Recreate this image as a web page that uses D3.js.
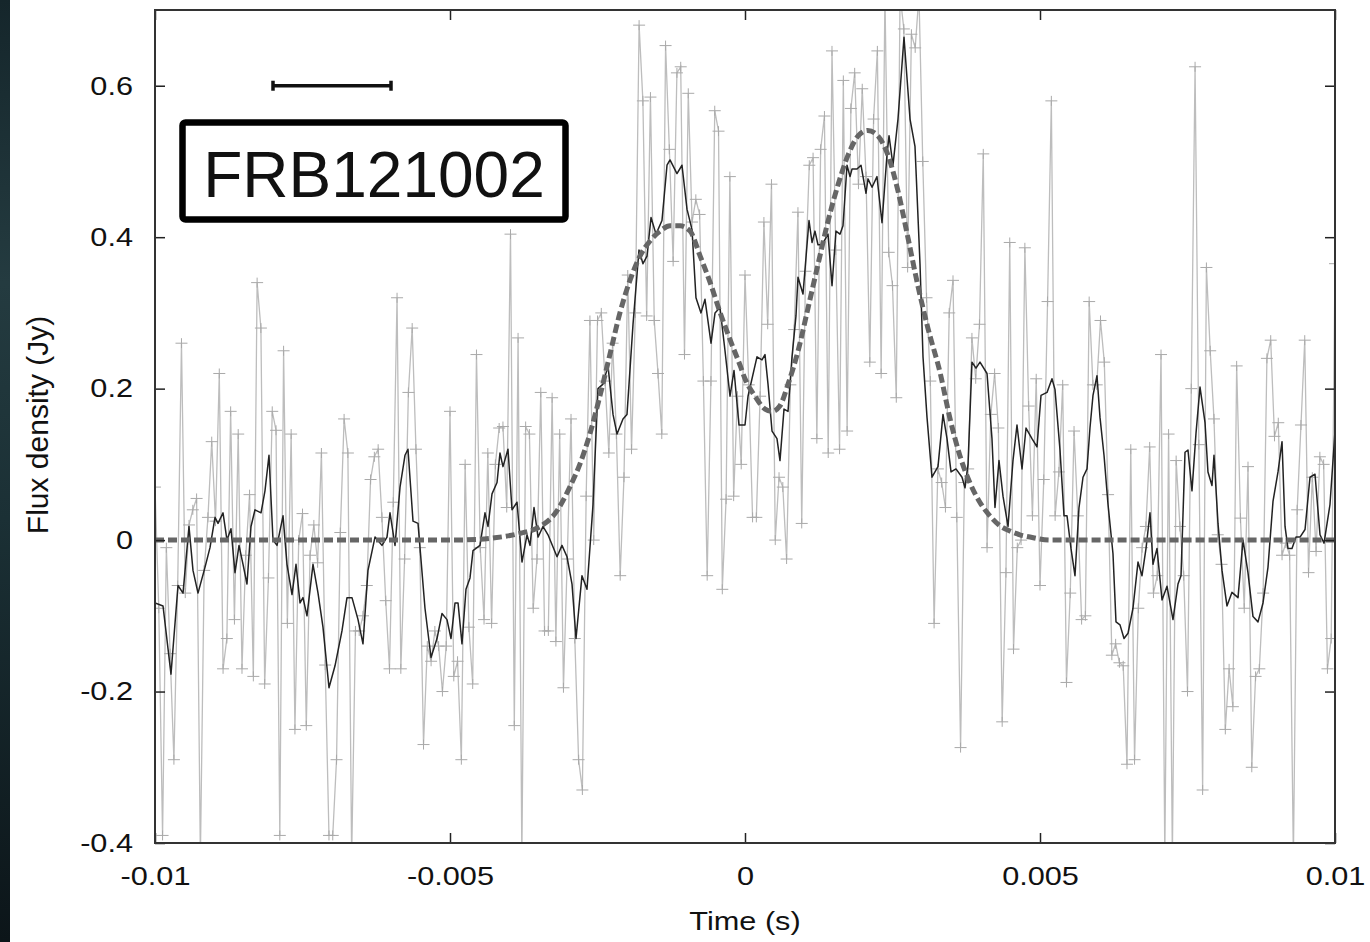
<!DOCTYPE html>
<html>
<head>
<meta charset="utf-8">
<script src="https://cdn.jsdelivr.net/npm/d3@7"></script>
<style>
body { margin: 0; background: #fff; }
svg { display: block; }
text { font-family: "Liberation Sans", Arial, Helvetica, sans-serif; fill: #111; }
</style>
</head>
<body>
<div id="chart"></div>
<script>
// ---- data ----
// raw flux density samples, evenly spaced from -0.01 s to 0.01 s
const greyFlux = [
    0.07, -0.09, -0.39, -0.01, -0.15, -0.29, -0.06, 0.26, -0.07, 0.02,
    0.04, 0.055, -0.42, -0.04, 0.03, 0.13, 0.025, 0.22, -0.17, -0.13,
    0.17, -0.105, 0.14, -0.17, -0.02, 0.06, -0.18, 0.34, 0.28, -0.19,
    -0.05, 0.17, 0.145, -0.39, 0.25, -0.11, 0.14, -0.25, 0.0, 0.035,
    -0.245, -0.02, 0.02, -0.03, 0.115, -0.165, -0.39, -0.39, -0.29, 0.01,
    0.16, 0.115,
    -0.42, -0.12, -0.12, -0.1, -0.06, 0.08, 0.11, 0.12, 0.03, -0.08,
    -0.17, 0.05, 0.32, -0.17, -0.025, 0.195, 0.28, 0.12, -0.01, -0.27,
    -0.14, -0.16, -0.12, -0.14, -0.2, -0.14, 0.17, -0.18, -0.16, -0.29,
    0.1, -0.115, -0.19, 0.245, -0.01, -0.105, 0.115, -0.11, 0.1, 0.148,
    0.15, 0.043, 0.404, -0.245, 0.267, -0.42, 0.15, 0.14, -0.09, -0.025,
    0.195, -0.12,
    -0.12, 0.188, -0.134, 0.14, -0.195, -0.025, 0.16, -0.13, -0.29, -0.33,
    0.058, 0.29, 0.0, 0.29, 0.3, 0.21, 0.115, 0.26, 0.14, -0.047,
    0.083, 0.35, 0.12, 0.3, 0.68, 0.58, 0.296, 0.585, 0.29, 0.22,
    0.14, 0.653, 0.516, 0.368, 0.617, 0.625, 0.245, 0.59, 0.42, 0.45,
    0.43, 0.21, -0.047, 0.21, 0.567, 0.54, -0.065, 0.054, 0.48, 0.058,
    0.19, 0.1, 0.35,
    0.205, 0.03, 0.03, 0.19, 0.42, 0.285, 0.47, 0.0, 0.083, 0.07,
    -0.025, 0.205, 0.278, 0.433, 0.022, 0.355, 0.495, 0.505, 0.134, 0.516,
    0.56, 0.115, 0.646, 0.383, 0.12, 0.607, 0.144, 0.57, 0.617, 0.47,
    0.596, 0.48, 0.235, 0.556, 0.646, 0.22, 0.72, 0.38, 0.336, 0.188,
    0.72, 0.675, 0.36, 0.668, 0.65, 0.72, 0.5, 0.32, 0.21, -0.11,
    0.094, 0.076,
    0.043, 0.3, 0.343, 0.03, -0.274, 0.076, 0.094, 0.267, 0.213, 0.285,
    0.51, -0.01, 0.166, 0.22, 0.148, -0.24, -0.043, 0.393, -0.144, -0.01,
    0.0, 0.386, 0.177, 0.032, 0.213, -0.06, 0.08, 0.315, 0.58, 0.032,
    0.09, 0.205, -0.188, -0.07, 0.144, 0.032, -0.105, -0.1, 0.315, 0.205,
    0.205, 0.29, 0.235, 0.06, -0.152, -0.137, -0.162, -0.166, -0.296, 0.12,
    -0.29, -0.09, -0.01, 0.018, 0.123, -0.07, -0.047, 0.245, -0.42, 0.14,
    -0.42, 0.105, 0.018, -0.047, -0.2, 0.2, 0.625, 0.126, -0.33, 0.36,
    0.25, 0.16, 0.007, -0.032, -0.25, -0.17, -0.22, 0.23, 0.029, -0.09,
    0.097, -0.3, -0.18, -0.17, -0.07, 0.24, 0.264, 0.137, 0.155, -0.02,
    -0.004, -0.02, -0.42, 0.04, 0.152, 0.264, -0.043, 0.083, -0.015, 0.11,
    0.1, -0.17, -0.13, 0.365
];
const tStart = -0.01, tEnd = 0.01;

// smoothed profile (time in ms)
const smoothMs = [
    -10.0, -9.864, -9.729, -9.61, -9.525, -9.424, -9.356, -9.271, -9.153, -9.068,
    -8.983, -8.932, -8.847, -8.78, -8.712, -8.644, -8.576, -8.508, -8.441, -8.373,
    -8.305, -8.203, -8.136, -8.068, -8.0, -7.932, -7.83, -7.763, -7.678, -7.61,
    -7.542, -7.492, -7.424, -7.322, -7.237, -7.153, -7.051, -6.949, -6.831, -6.746,
    -6.661, -6.559, -6.475, -6.39, -6.271, -6.153, -6.068, -6.017, -5.932, -5.847,
    -5.763, -5.712, -5.627, -5.542, -5.424, -5.322, -5.22, -5.136, -5.051, -4.983,
    -4.915, -4.864, -4.797, -4.729, -4.661, -4.61, -4.492, -4.407, -4.356, -4.288,
    -4.203, -4.153, -4.102, -4.017, -3.949, -3.864, -3.78, -3.695, -3.644, -3.576,
    -3.508, -3.424,
    -3.339, -3.186, -3.102, -3.017, -2.932, -2.864, -2.763, -2.678, -2.576, -2.492,
    -2.407, -2.322, -2.237, -2.169, -2.068, -2.0, -1.898, -1.797, -1.729, -1.661,
    -1.593, -1.508, -1.407, -1.322, -1.271, -1.153, -1.068, -0.983, -0.898, -0.831,
    -0.746, -0.678, -0.576, -0.508, -0.424, -0.339, -0.254, -0.186, -0.102,
    0.0, 0.051, 0.203, 0.288, 0.339, 0.39, 0.458, 0.542, 0.593, 0.661,
    0.729, 0.797, 0.864, 0.898, 0.983, 1.085, 1.136, 1.186, 1.237, 1.305,
    1.407, 1.475, 1.542, 1.61, 1.661, 1.729, 1.78, 1.814, 1.898, 1.966,
    2.051, 2.085, 2.153, 2.237, 2.322, 2.407, 2.441, 2.508, 2.593, 2.695,
    2.797, 2.881, 2.966, 3.017, 3.085, 3.169,
    3.271, 3.356, 3.424, 3.492, 3.576, 3.678, 3.729, 3.78, 3.847, 3.915,
    3.983, 4.102, 4.186, 4.237, 4.305, 4.373, 4.458, 4.542, 4.61, 4.695,
    4.763, 4.864, 4.949, 5.017, 5.119, 5.203, 5.254, 5.339, 5.407, 5.458,
    5.525, 5.593, 5.661, 5.729, 5.797, 5.847, 5.898, 5.966, 6.017, 6.085,
    6.153, 6.237, 6.288, 6.356, 6.424, 6.492,
    6.576, 6.661, 6.729, 6.797, 6.864, 6.915, 6.983, 7.068, 7.153, 7.254,
    7.339, 7.39, 7.458, 7.508, 7.576, 7.644, 7.712, 7.797, 7.847, 7.915,
    7.949, 8.017, 8.085, 8.169, 8.254, 8.356, 8.441, 8.525, 8.61, 8.695,
    8.78, 8.864, 8.949, 9.034, 9.102, 9.153, 9.203, 9.271, 9.339, 9.407,
    9.492, 9.576, 9.661, 9.746, 9.814, 9.915, 10.0
];
const smoothFlux = [
    -0.083, -0.087, -0.177, -0.06, -0.07, 0.018, -0.04, -0.07, -0.036, -0.01,
    0.03, 0.022, 0.036, 0.0, 0.015, -0.043, -0.007, -0.032, -0.058, 0.018,
    0.04, 0.036, 0.065, 0.112, 0.0, -0.007, 0.032, -0.032, -0.072, -0.032,
    -0.083, -0.076, -0.1, -0.032, -0.07, -0.115, -0.195, -0.166, -0.12, -0.076,
    -0.076, -0.105, -0.137, -0.04, 0.004, -0.007, 0.004, 0.036, -0.007, 0.07,
    0.112, 0.12, 0.025, 0.022, -0.09, -0.155, -0.13, -0.097, -0.105, -0.13,
    -0.083, -0.083, -0.137, -0.065, -0.05, -0.014, -0.007, 0.036, 0.018, 0.061,
    0.076, 0.115, 0.097, 0.12, 0.04, 0.05, -0.029, 0.007, -0.007, 0.043,
    0.004, 0.018,
    0.007, -0.022, -0.007, -0.022, -0.058, -0.13, -0.047, -0.065, 0.047, 0.2,
    0.206, 0.23, 0.166, 0.14, 0.16, 0.166, 0.285, 0.383, 0.365, 0.375,
    0.426, 0.404, 0.422, 0.495, 0.502, 0.484, 0.495, 0.437, 0.41, 0.32,
    0.3, 0.318, 0.26, 0.3, 0.307, 0.25, 0.19, 0.224, 0.152,
    0.152, 0.19, 0.242, 0.238, 0.245, 0.206, 0.144, 0.134, 0.105, 0.173,
    0.17, 0.242, 0.296, 0.347, 0.325, 0.422, 0.393, 0.408, 0.39, 0.39,
    0.404, 0.336, 0.408, 0.404, 0.415, 0.495, 0.48, 0.49, 0.49, 0.495,
    0.458, 0.477, 0.466, 0.48, 0.419, 0.509, 0.534, 0.495, 0.556, 0.664,
    0.556, 0.52, 0.365, 0.242, 0.162, 0.083,
    0.097, 0.166, 0.134, 0.09, 0.094, 0.083, 0.069, 0.1, 0.235, 0.227,
    0.235, 0.22, 0.134, 0.043, 0.105, 0.058, 0.018, 0.105, 0.152, 0.094,
    0.148, 0.134, 0.123, 0.191, 0.195, 0.213, 0.199, 0.119, 0.032, 0.032,
    -0.011, -0.047, 0.043, 0.083, 0.094, 0.148, 0.191, 0.217, 0.162, 0.112,
    0.047, -0.018, -0.108, -0.112, -0.13, -0.123,
    -0.09, -0.029, -0.047, -0.011, 0.036, -0.032, -0.011, -0.079, -0.061, -0.105,
    -0.058, -0.047, 0.116, 0.119, 0.065, 0.141, 0.202, 0.155, 0.09, 0.072,
    0.112, 0.022, -0.04, -0.087, -0.069, -0.076, 0.0, -0.043, -0.101, -0.108,
    -0.083, -0.036, 0.051, 0.09, 0.13, 0.018, -0.011, -0.011, 0.004, 0.004,
    0.014, 0.083, 0.087, 0.007, -0.004, 0.047, 0.144
];

// two-component model fit (time in ms)
const fitMs = [
    -10, -5, -4.5, -4.24, -3.81, -3.47, -3.22, -2.97, -2.8, -2.63,
    -2.46, -2.29, -2.12, -1.95, -1.78, -1.61, -1.44, -1.27, -1.1, -0.93,
    -0.76, -0.59, -0.42, -0.25, -0.08, 0.0, 0.17, 0.34, 0.46, 0.59,
    0.73, 0.9, 1.07, 1.24, 1.41, 1.58, 1.75, 1.92, 2.08, 2.25,
    2.42, 2.59, 2.76, 2.93, 3.1, 3.31, 3.47, 3.64, 3.81, 3.98,
    4.15, 4.32, 4.49, 4.66, 4.83, 5.17, 10
];
const fitFlux = [
    0, 0, 0.001, 0.003, 0.009, 0.018, 0.035, 0.07, 0.1, 0.14,
    0.19, 0.245, 0.3, 0.343, 0.375, 0.395, 0.408, 0.415, 0.415, 0.408,
    0.375, 0.34, 0.3, 0.264, 0.23, 0.213, 0.19, 0.173, 0.17, 0.177,
    0.206, 0.25, 0.307, 0.365, 0.422, 0.47, 0.509, 0.534, 0.541, 0.534,
    0.509, 0.462, 0.4, 0.336, 0.28, 0.22, 0.162, 0.112, 0.076, 0.05,
    0.032, 0.019, 0.012, 0.007, 0.004, 0, 0
];

const xTicks = [-0.01, -0.005, 0, 0.005, 0.01];
const xTickLabels = ["-0.01", "-0.005", "0", "0.005", "0.01"];
const yTicks = [-0.4, -0.2, 0, 0.2, 0.4, 0.6];
const yTickLabels = ["-0.4", "-0.2", "0", "0.2", "0.4", "0.6"];
const scaleBarTimes = [-0.008, -0.006];
const scaleBarFlux = 0.6;
const sourceName = "FRB121002";

// ---- layout ----
const width = 1370;
const height = 942;
const plot = { left: 155, right: 1335, top: 10, bottom: 843 };
const stretch = 1.18;   // axis lettering in the figure is drawn a bit wide

const svg = d3.select("#chart")
    .append("svg")
    .attr("width", width)
    .attr("height", height);

// dark photo strip on the far left edge
const defs = svg.append("defs");
const grad = defs.append("linearGradient")
    .attr("id", "strip")
    .attr("x1", 0).attr("y1", 0).attr("x2", 0).attr("y2", 1);
grad.append("stop").attr("offset", "0%").attr("stop-color", "#15262b");
grad.append("stop").attr("offset", "30%").attr("stop-color", "#243b40");
grad.append("stop").attr("offset", "55%").attr("stop-color", "#1b3035");
grad.append("stop").attr("offset", "100%").attr("stop-color", "#0c1519");
svg.append("rect")
    .attr("x", 0).attr("y", 0)
    .attr("width", 10).attr("height", height)
    .attr("fill", "url(#strip)");

defs.append("clipPath")
    .attr("id", "plotClip")
    .append("rect")
    .attr("x", plot.left).attr("y", plot.top)
    .attr("width", plot.right - plot.left)
    .attr("height", plot.bottom - plot.top);

const x = d3.scaleLinear().domain([-0.01, 0.01]).range([plot.left, plot.right]);
const y = d3.scaleLinear().domain([-0.4, 0.7]).range([plot.bottom, plot.top]);

// ---- series ----
const step = (tEnd - tStart) / (greyFlux.length - 1);
const raw = greyFlux.map((v, i) => ({ t: tStart + i * step, v: v }));
const smooth = smoothMs.map((t, i) => ({ t: t / 1000, v: smoothFlux[i] }));
const fit = fitMs.map((t, i) => ({ t: t / 1000, v: fitFlux[i] }));

const data = svg.append("g").attr("clip-path", "url(#plotClip)");

const line = d3.line()
    .x(d => x(d.t))
    .y(d => y(d.v));

data.append("path")
    .datum(raw)
    .attr("d", line)
    .attr("fill", "none")
    .attr("stroke", "#bdbdbd")
    .attr("stroke-width", 1.3);

// "+" markers on every raw sample
data.selectAll(".pt")
    .data(raw)
    .enter()
    .append("path")
    .attr("class", "pt")
    .attr("transform", d => `translate(${x(d.t)},${y(d.v)})`)
    .attr("d", "M-6,0H6M0,-5V5")
    .attr("stroke", "#a9a9a9")
    .attr("stroke-width", 1);

data.append("path")
    .datum(smooth)
    .attr("d", line)
    .attr("fill", "none")
    .attr("stroke", "#222")
    .attr("stroke-width", 1.5)
    .attr("stroke-linejoin", "round");

data.append("path")
    .datum(fit)
    .attr("d", line.curve(d3.curveMonotoneX))
    .attr("fill", "none")
    .attr("stroke", "#666")
    .attr("stroke-width", 5)
    .attr("stroke-dasharray", "9,4");

// ---- axes ----
function styleAxis(g) {
    g.select(".domain").remove();
    g.selectAll(".tick line").attr("stroke", "#222").attr("stroke-width", 1.5);
    g.selectAll(".tick text")
        .attr("fill", "#111")
        .style("font-size", "26px")
        .style("font-family", '"Liberation Sans", Arial, Helvetica, sans-serif')
        .each(function () {
            const t = d3.select(this);
            const tx = +t.attr("x") || 0;
            t.attr("x", tx / stretch).attr("transform", `scale(${stretch},1)`);
        });
}

svg.append("g")
    .attr("transform", `translate(0,${plot.bottom})`)
    .call(d3.axisBottom(x).tickValues(xTicks).tickSize(-10).tickPadding(24)
        .tickFormat((d, i) => xTickLabels[i]))
    .call(styleAxis);

svg.append("g")
    .attr("transform", `translate(0,${plot.top})`)
    .call(d3.axisTop(x).tickValues(xTicks).tickSize(-10).tickFormat(""))
    .call(styleAxis);

svg.append("g")
    .attr("transform", `translate(${plot.left},0)`)
    .call(d3.axisLeft(y).tickValues(yTicks).tickSize(-10).tickPadding(22)
        .tickFormat((d, i) => yTickLabels[i]))
    .call(styleAxis);

svg.append("g")
    .attr("transform", `translate(${plot.right},0)`)
    .call(d3.axisRight(y).tickValues(yTicks).tickSize(-10).tickFormat(""))
    .call(styleAxis);

svg.append("rect")
    .attr("x", plot.left).attr("y", plot.top)
    .attr("width", plot.right - plot.left)
    .attr("height", plot.bottom - plot.top)
    .attr("fill", "none")
    .attr("stroke", "#333")
    .attr("stroke-width", 2);

svg.append("text")
    .attr("transform", `translate(${(plot.left + plot.right) / 2},930) scale(${stretch},1)`)
    .attr("text-anchor", "middle")
    .style("font-size", "26px")
    .text("Time (s)");

svg.append("text")
    .attr("transform", "translate(48,425) rotate(-90)")
    .attr("text-anchor", "middle")
    .style("font-size", "30px")
    .text("Flux density (Jy)");

// ---- scale bar and label box ----
const bar = svg.append("g").attr("stroke", "#111").attr("stroke-width", 3.5);
bar.append("line")
    .attr("x1", x(scaleBarTimes[0])).attr("x2", x(scaleBarTimes[1]))
    .attr("y1", y(scaleBarFlux)).attr("y2", y(scaleBarFlux));
bar.selectAll(".cap")
    .data(scaleBarTimes)
    .enter()
    .append("line")
    .attr("x1", d => x(d)).attr("x2", d => x(d))
    .attr("y1", y(scaleBarFlux) - 5).attr("y2", y(scaleBarFlux) + 5);

svg.append("rect")
    .attr("x", 182.5).attr("y", 122.5)
    .attr("width", 383).attr("height", 97)
    .attr("rx", 3)
    .attr("fill", "#fff")
    .attr("stroke", "#000")
    .attr("stroke-width", 6.5);

svg.append("text")
    .attr("x", 374)
    .attr("y", 197)
    .attr("text-anchor", "middle")
    .style("font-size", "64px")
    .attr("fill", "#000")
    .text(sourceName);
</script>
</body>
</html>
